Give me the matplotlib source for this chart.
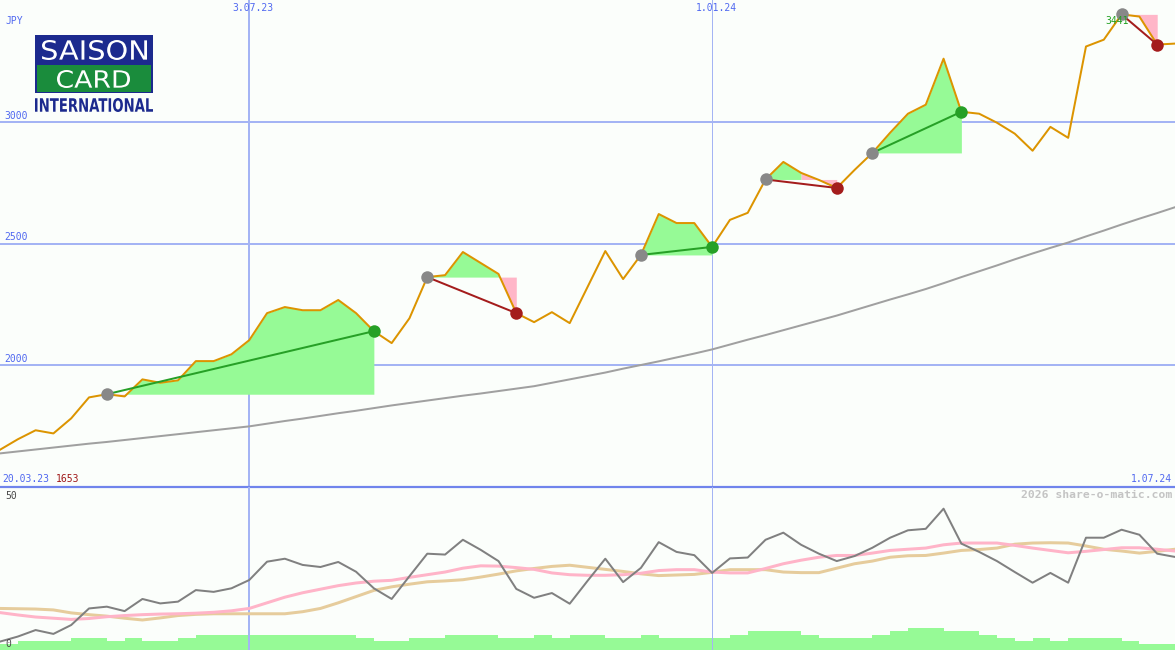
import matplotlib
matplotlib.use("Agg")
import matplotlib.pyplot as plt
import numpy as np
from matplotlib.patches import Rectangle, PathPatch
from matplotlib.textpath import TextPath
from matplotlib.font_manager import FontProperties
from matplotlib.transforms import Affine2D

# kurs tygodniowy (JPY), 20.03.23 - 1.07.24
price = [1653, 1696, 1733, 1720, 1782, 1868, 1881, 1872, 1942, 1928,
         1938, 2017, 2017, 2045, 2103, 2214, 2239, 2226, 2226, 2268,
         2214, 2140, 2091, 2193, 2362, 2370, 2465, 2420, 2375, 2214,
         2177, 2218, 2173, 2321, 2469, 2354, 2453, 2621, 2584, 2584,
         2486, 2597, 2626, 2763, 2835, 2790, 2761, 2728, 2802, 2872,
         2955, 3033, 3070, 3259, 3041, 3033, 2996, 2951, 2881, 2979,
         2934, 3309, 3337, 3441, 3432, 3317, 3321]

# srednia dluga (szara)
ma_long = [1638, 1646, 1654, 1662, 1670, 1678, 1685, 1693, 1701, 1709,
           1717, 1725, 1733, 1741, 1749, 1760, 1771, 1781, 1792, 1803,
           1813, 1824, 1835, 1845, 1855, 1865, 1875, 1884, 1894, 1904,
           1914, 1928, 1942, 1956, 1970, 1986, 2001, 2016, 2032, 2048,
           2065, 2085, 2105, 2124, 2144, 2164, 2184, 2204, 2226, 2248,
           2270, 2291, 2313, 2337, 2362, 2386, 2410, 2435, 2459, 2482,
           2504, 2529, 2553, 2578, 2602, 2625, 2649]

# oscylator + dwie srednie
osc = [2.5, 4.2, 6.4, 5.1, 8.1, 13.7, 14.3, 12.8, 16.9, 15.4,
       16.0, 19.9, 19.3, 20.5, 23.3, 29.5, 30.5, 28.4, 27.7, 29.4,
       26.1, 20.5, 16.9, 24.6, 32.2, 31.9, 36.9, 33.5, 29.7, 20.3,
       17.3, 18.9, 15.3, 23.0, 30.5, 22.6, 27.4, 36.1, 32.8, 31.7,
       25.7, 30.6, 30.9, 36.9, 39.3, 35.2, 32.2, 29.7, 31.4, 34.2,
       37.6, 40.1, 40.6, 47.4, 35.6, 32.8, 29.7, 26.0, 22.4, 25.7,
       22.4, 37.6, 37.6, 40.3, 38.6, 32.2, 31.1]
osc_pink = [12.3, 11.5, 10.8, 10.4, 10.0, 10.3, 10.9, 11.3, 11.6, 11.8,
            11.9, 12.1, 12.4, 12.9, 13.7, 15.6, 17.5, 19.0, 20.2, 21.4,
            22.3, 22.9, 23.2, 24.2, 25.1, 26.0, 27.3, 28.1, 28.0, 27.5,
            26.9, 25.7, 25.1, 24.9, 24.9, 25.1, 25.6, 26.5, 26.8, 26.8,
            26.0, 25.7, 25.7, 27.2, 28.8, 30.0, 31.0, 31.6, 31.6, 32.4,
            33.3, 33.7, 34.1, 35.2, 35.8, 35.8, 35.8, 35.0, 34.1, 33.3,
            32.5, 33.0, 33.6, 34.2, 34.2, 33.7, 33.1]
osc_tan = [13.7, 13.6, 13.5, 13.2, 12.2, 11.6, 11.1, 10.4, 9.8, 10.5,
           11.3, 11.7, 11.9, 11.9, 11.9, 11.9, 11.9, 12.6, 13.7, 15.6,
           17.7, 19.8, 21.0, 21.9, 22.7, 23.0, 23.4, 24.3, 25.3, 26.4,
           27.2, 27.9, 28.3, 27.6, 26.9, 26.2, 25.4, 24.8, 25.0, 25.2,
           25.9, 26.8, 26.8, 26.8, 26.0, 25.8, 25.8, 27.3, 28.8, 29.7,
           31.0, 31.5, 31.6, 32.4, 33.3, 33.6, 34.1, 35.4, 35.8, 35.9,
           35.8, 34.8, 33.7, 33.1, 32.4, 33.0, 33.7]
volume = [6, 9, 9, 9, 12, 12, 9, 12, 9, 9,
          12, 15, 15, 15, 15, 15, 15, 15, 15, 15,
          12, 9, 9, 12, 12, 15, 15, 15, 12, 12,
          15, 12, 15, 15, 12, 12, 15, 12, 12, 12,
          12, 15, 19, 19, 19, 15, 12, 12, 12, 15,
          19, 22, 22, 19, 19, 15, 12, 9, 12, 9,
          12, 12, 12, 9, 6, 6, 6]

# transakcje (indeks wejscia / wyjscia)
entries = [6, 24, 36, 43, 49, 63]
exits = [21, 29, 40, 47, 54, 65]

date_idx = [14, 40]
date_labels = ["3.07.23", "1.01.24"]
first_date = "20.03.23"
last_date = "1.07.24"
grid_levels = [2000, 2500, 3000]

BG = "#fbfefb"
GRID = "#a4b4f4"
BLUE_TXT = "#5068f0"
GREEN_FILL = "#96fa96"
PINK_FILL = "#ffb6c8"
MONO = "DejaVu Sans Mono"
PX = 72 / 100  # 1 piksel w punktach

W, H = 1175, 650
n = len(price)
x = np.arange(n)
p = np.array(price, dtype=float)

fig = plt.figure(figsize=(W / 100, H / 100), dpi=100, facecolor=BG)
ax = fig.add_axes([0, 163 / H, 1, 487 / H])
ax2 = fig.add_axes([0, 0, 1, 163 / H])
ax3 = ax2.twinx()
ax3.set_zorder(ax2.get_zorder() - 1)

for a in (ax, ax2, ax3):
    a.axis("off")
    a.set_xlim(0, n - 1)
ax.set_ylim(1500, 3500)
ax2.set_ylim(-0.34, 54.73)
ax3.set_ylim(0, 163)

# siatka
for lvl in grid_levels:
    ax.axhline(lvl, color=GRID, lw=2 * PX, zorder=1)
    ax.annotate(str(lvl), (0, lvl), xytext=(4, 1), textcoords="offset pixels",
                ha="left", va="bottom", fontsize=7, family=MONO, color=BLUE_TXT)
for a in (ax, ax2):
    a.axvline(date_idx[0], color=GRID, lw=2 * PX, zorder=1)
    a.axvline(date_idx[1], color=GRID, lw=1 * PX, zorder=1)
ax.axhline(1500, color="#7084ec", lw=2.2 * PX, zorder=7, clip_on=False)

# wypelnienia transakcji - kolor odcinka wg ceny na jego koncu
for e, q in zip(entries, exits):
    lvl = price[e]
    cols = [GREEN_FILL if price[i + 1] >= lvl else PINK_FILL for i in range(e, q)]
    start = 0
    for k in range(1, len(cols) + 1):
        if k == len(cols) or cols[k] != cols[k - 1]:
            sl = slice(e + start, e + k + 1)
            ax.fill_between(x[sl], lvl, p[sl], color=cols[k - 1], lw=0, zorder=2)
            start = k

ax.plot(x, ma_long, color="#a0a0a0", lw=2 * PX, zorder=3)
ax.plot(x, price, color="#dc9400", lw=2 * PX, zorder=4)

for e, q in zip(entries, exits):
    win = price[q] > price[e]
    col = "#26a026" if win else "#a41c1c"
    ax.plot([e, q], [price[e], price[q]], color=col, lw=2 * PX, zorder=5)
    ax.plot(e, price[e], "o", ms=9, color="#888888", mec="none", zorder=6)
    ax.plot(q, price[q], "o", ms=9, color=col, mec="none", zorder=6)

# podpisy
ax.annotate("JPY", (0, 3500), xytext=(5, -16), textcoords="offset pixels",
            ha="left", va="top", fontsize=7, family=MONO, color=BLUE_TXT)
for idx, lbl in zip(date_idx, date_labels):
    ax.annotate(lbl, (idx, 3500), xytext=(4, -3), textcoords="offset pixels",
                ha="center", va="top", fontsize=7, family=MONO, color=BLUE_TXT)
ax.annotate(first_date, (0, 1500), xytext=(2, 3), textcoords="offset pixels",
            ha="left", va="bottom", fontsize=7, family=MONO, color=BLUE_TXT)
ax.annotate(str(price[0]), (0, 1500), xytext=(56, 3), textcoords="offset pixels",
            ha="left", va="bottom", fontsize=7, family=MONO, color="#a01818")
ax.annotate(last_date, (n - 1, 1500), xytext=(-3, 3), textcoords="offset pixels",
            ha="right", va="bottom", fontsize=7, family=MONO, color=BLUE_TXT)
hi = int(np.argmax(price))
ax.annotate(str(price[hi]), (hi, price[hi]), xytext=(7, -7), textcoords="offset pixels",
            ha="right", va="center", fontsize=7, family=MONO, color="#20a020", zorder=8)

# panel dolny
ax3.stairs(volume, edges=np.arange(n + 1), fill=True, color=GREEN_FILL, lw=0)
ax2.plot(x, osc_tan, color="#e6cc9c", lw=3 * PX)
ax2.plot(x, osc_pink, color="#ffb4c8", lw=3 * PX)
ax2.plot(x, osc, color="#808080", lw=2 * PX)
for lvl in (0, 50):
    ax2.annotate(str(lvl), (0, lvl), xytext=(5, 0), textcoords="offset pixels",
                 ha="left", va="bottom", fontsize=7, family=MONO, color="#484848")
ax2.annotate("2026 share-o-matic.com", (n - 1, 54.73), xytext=(-3, -3),
             textcoords="offset pixels", ha="right", va="top", fontsize=8.2,
             family=MONO, fontweight="bold", color="#c4c4c4")


# logo - napisy jako sciezki dopasowane do prostokata
def logo_word(axl, s, x0, x1, ytop, ybot, color, weight):
    tp = TextPath((0, 0), s, size=10,
                  prop=FontProperties(family="DejaVu Sans", weight=weight))
    bb = tp.get_extents()
    sx = (x1 - x0) / bb.width
    sy = (ybot - ytop) / bb.height
    tr = Affine2D().translate(-bb.x0, -bb.y0).scale(sx, -sy).translate(x0, ybot)
    axl.add_patch(PathPatch(tr.transform_path(tp), color=color, lw=0))


lg = fig.add_axes([35 / W, 1 - 113 / H, 118 / W, 78 / H])
lg.axis("off")
lg.set_xlim(0, 118)
lg.set_ylim(78, 0)
lg.add_patch(Rectangle((0, 0), 118, 58, color="#1c2a8e", lw=0))
lg.add_patch(Rectangle((2, 30), 114, 27, color="#1a8c3c", lw=0))
logo_word(lg, "SAISON", 7, 112, 5, 25, "white", "normal")
logo_word(lg, "CARD", 22, 95, 35, 53, "white", "normal")
logo_word(lg, "INTERNATIONAL", 0, 118, 63, 77, "#1c2a8e", "bold")

fig.savefig("out.png", dpi=100, facecolor=BG)
